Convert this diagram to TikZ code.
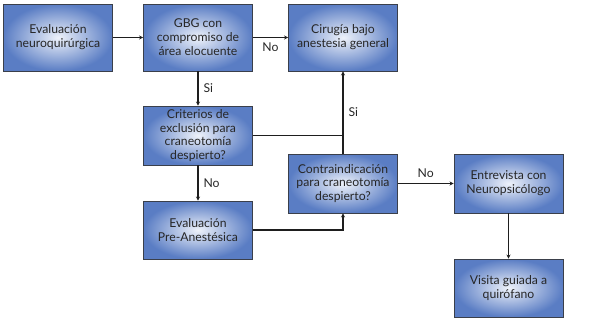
\documentclass[tikz,border=0pt]{standalone}
\usepackage{fontspec}
\setmainfont{Lato}
\usepackage{xcolor}
\usepackage{tikz}
\usetikzlibrary{arrows.meta}
\definecolor{boxblue}{HTML}{5A7DC4}
\definecolor{boxlight}{HTML}{EEF2FA}
\definecolor{boxborder}{HTML}{3A3F4A}
\definecolor{flowline}{HTML}{1E1E1E}

\tikzset{
  box/.style={draw=boxborder, line width=0.9pt, shading=radial,
              inner color=boxlight, outer color=boxblue, align=center,
              minimum width=109pt, inner sep=1pt, text=black!85,
              font=\fontsize{12.2}{13.9}\selectfont},
  flow/.style={draw=flowline, line width=1.2pt, -{Stealth[length=4pt, width=4pt]}},
  joinline/.style={draw=flowline, line width=1.2pt},
  lbl/.style={font=\fontsize{12.2}{14}\selectfont, text=black!85, inner sep=5pt}
}

\begin{document}
\begin{tikzpicture}[x=1pt, y=-1pt]
  \useasboundingbox (0,0) rectangle (600,325);

  % top row
  \node[box, minimum height=67pt] (evalnq) at (58,37.5) {Evaluación\\neuroquirúrgica};
  \node[box, minimum height=67pt] (gbg) at (198,37.5) {GBG con\\compromiso de\\área elocuente};
  \node[box, minimum height=67pt] (cirugia) at (343,37.5) {Cirugía bajo\\anestesia general};

  % middle / bottom
  \node[box, minimum height=59pt] (criterios) at (198,135.5) {Criterios de\\exclusión para\\craneotomía\\despierto?};
  \node[box, minimum height=58pt] (preanest) at (198,230) {Evaluación\\Pre-Anestésica};
  \node[box, minimum height=59pt] (contra) at (343,183.5) {Contraindicación\\para craneotomía\\despierto?};
  \node[box, minimum height=59pt] (entrevista) at (508.5,183.5) {Entrevista con\\Neuropsicólogo};
  \node[box, minimum height=58pt] (visita) at (508.5,288) {Visita guiada a\\quirófano};

  % connectors
  \draw[flow] (evalnq) -- (gbg);
  \draw[flow] (gbg) -- node[lbl, below] {No} (cirugia);
  \draw[flow] (gbg) -- node[lbl, right] {Si} (criterios);
  \draw[flow] (criterios) -- node[lbl, right] {No} (preanest);
  \draw[joinline] (criterios.east) -- (criterios.east -| contra.north);
  \draw[flow] (contra.north) -- node[lbl, right] {Si} (cirugia.south);
  \draw[flow] (preanest.east) -| (contra.south);
  \draw[flow] (contra) -- node[lbl, above] {No} (entrevista);
  \draw[flow] (entrevista) -- (visita);
\end{tikzpicture}
\end{document}
